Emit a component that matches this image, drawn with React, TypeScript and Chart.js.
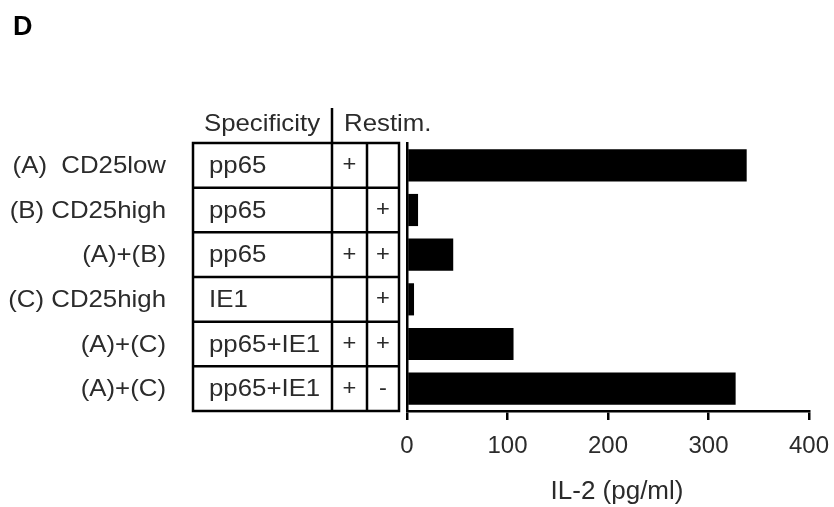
import React, { useEffect, useRef } from "react";
import { Chart, registerables } from "chart.js";

Chart.register(...registerables);

const panelLabel = "D";
const rowLabels = ["(A)  CD25low", "(B) CD25high", "(A)+(B)", "(C) CD25high", "(A)+(C)", "(A)+(C)"];
const specificity = ["pp65", "pp65", "pp65", "IE1", "pp65+IE1", "pp65+IE1"];
const restimA = ["+", "", "+", "", "+", "+"];
const restimB = ["", "+", "+", "+", "+", "-"];
const il2Values = [338, 11, 46, 7, 106, 327];
const xTicks = [0, 100, 200, 300, 400];
const headerSpec = "Specificity";
const headerRestim = "Restim.";
const xTitle = "IL-2 (pg/ml)";

const FONT = '"Liberation Sans", Arial, sans-serif';
const TEXT = "#2b2b2b";
const STRETCH = 1.075;

function drawText(ctx: CanvasRenderingContext2D, text: string, x: number, y: number, align: CanvasTextAlign, sx = STRETCH) {
  ctx.save();
  ctx.translate(x, y);
  ctx.scale(sx, 1);
  ctx.textAlign = align;
  ctx.fillText(text, 0, 0);
  ctx.restore();
}

const tablePlugin = {
  id: "tablePlugin",
  afterDraw(chart: any) {
    const ctx = chart.ctx as CanvasRenderingContext2D;
    const ys = chart.scales.y;
    const xs = chart.scales.x;
    const n = rowLabels.length;
    const top = ys.top;
    const bottom = ys.bottom;
    const step = (bottom - top) / n;
    const tL = 193, c1 = 332, c2 = 367, tR = 399;
    ctx.save();
    // panel label
    ctx.fillStyle = "#000";
    ctx.font = `bold 27px ${FONT}`;
    ctx.textBaseline = "alphabetic";
    drawText(ctx, panelLabel, 13, 35, "left", 1);

    // header
    ctx.fillStyle = TEXT;
    ctx.font = `24px ${FONT}`;
    ctx.textBaseline = "middle";
    drawText(ctx, headerSpec, 262, 124, "center");
    drawText(ctx, headerRestim, 344, 124, "left");

    // rows
    for (let i = 0; i < n; i++) {
      const cy = ys.getPixelForValue(i);
      ctx.fillStyle = TEXT;
      ctx.font = `24px ${FONT}`;
      drawText(ctx, rowLabels[i], 166, cy + 1, "right");
      drawText(ctx, specificity[i], 209, cy + 1, "left");
      ctx.font = `22px ${FONT}`;
      drawText(ctx, restimA[i], (c1 + c2) / 2, cy, "center");
      drawText(ctx, restimB[i], (c2 + tR) / 2, cy, "center");
    }

    // x-axis title
    ctx.font = `26px ${FONT}`;
    drawText(ctx, xTitle, (xs.left + xs.right) / 2 + 9, 492, "center", 1);

    // grid lines
    ctx.strokeStyle = "#000";
    ctx.lineWidth = 2.5;
    ctx.beginPath();
    ctx.rect(tL, top, tR - tL, bottom - top);
    ctx.moveTo(c1, 108);
    ctx.lineTo(c1, bottom);
    ctx.moveTo(c2, top);
    ctx.lineTo(c2, bottom);
    for (let i = 1; i < n; i++) {
      const yy = top + step * i;
      ctx.moveTo(tL, yy);
      ctx.lineTo(tR, yy);
    }
    ctx.stroke();
    ctx.restore();
  },
};

export default function App() {
  const ref = useRef<HTMLCanvasElement | null>(null);
  useEffect(() => {
    if (!ref.current) return;
    const chart = new Chart(ref.current, {
      type: "bar",
      data: {
        labels: rowLabels,
        datasets: [
          {
            data: il2Values,
            backgroundColor: "#000",
            borderWidth: 0,
            barPercentage: 0.72,
            categoryPercentage: 1,
          },
        ],
      },
      options: {
        responsive: false,
        animation: false,
        indexAxis: "y",
        layout: { padding: { left: 407, right: 25, top: 143, bottom: 0 } },
        plugins: { legend: { display: false }, tooltip: { enabled: false } },
        scales: {
          x: {
            type: "linear",
            min: 0,
            max: 400,
            afterBuildTicks: (s: any) => {
              s.ticks = xTicks.map((v) => ({ value: v }));
            },
            afterFit: (s: any) => {
              s.height = 96;
              s.paddingLeft = 0;
              s.paddingRight = 0;
            },
            ticks: { color: TEXT, font: { size: 24, family: FONT }, padding: 12, maxRotation: 0 },
            grid: { drawOnChartArea: false, drawTicks: true, tickLength: 9, color: "#000", lineWidth: 2.5 },
            border: { display: true, color: "#000", width: 2.5 },
            title: { display: false, text: xTitle },
          },
          y: {
            type: "category",
            afterFit: (s: any) => {
              s.width = 0;
            },
            ticks: { display: false },
            grid: { display: false, drawTicks: false },
            border: { display: true, color: "#000", width: 2.5 },
          },
        },
      },
      plugins: [tablePlugin],
    } as any);
    return () => chart.destroy();
  }, []);
  return (
    <div style={{ position: "absolute", left: 0, top: 0, width: 834, height: 507, background: "#fff" }}>
      <canvas ref={ref} width={834} height={507} style={{ width: 834, height: 507, display: "block" }} />
    </div>
  );
}
